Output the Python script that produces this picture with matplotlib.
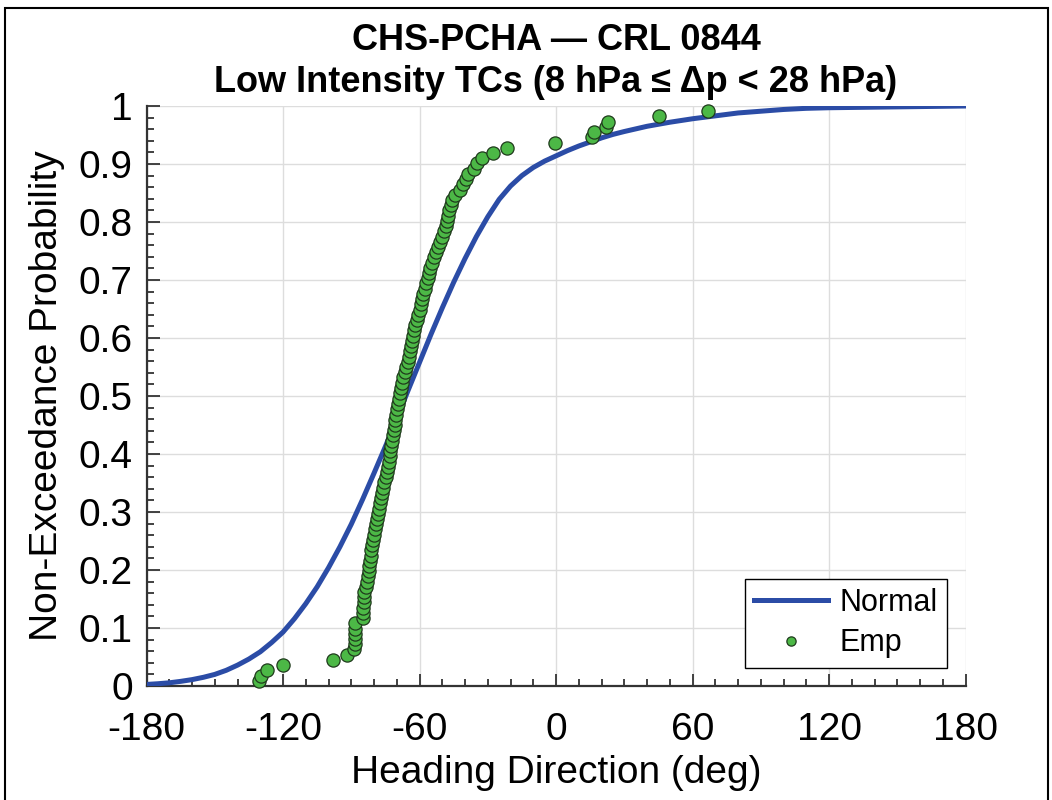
import numpy as np
import matplotlib.pyplot as plt
from matplotlib.patches import Rectangle
from matplotlib.ticker import MultipleLocator

plt.rcParams['font.family'] = ['Liberation Sans', 'DejaVu Sans']

# fitted normal CDF
norm_x = [-180, -175, -170, -165, -160, -155, -150, -145, -140, -135, -130, -125,
          -120, -115, -110, -105, -100, -95, -90, -85, -80, -75, -70, -65, -60,
          -55, -50, -45, -40, -35, -30, -25, -20, -15, -10, -5, 0, 5, 10, 15, 20,
          25, 30, 40, 50, 60, 70, 80, 90, 100, 110, 120, 140, 160, 180]
norm_p = [0.0027, 0.0039, 0.0055, 0.008, 0.011, 0.015, 0.020, 0.027, 0.036, 0.0465,
          0.059, 0.075, 0.093, 0.116, 0.142, 0.171, 0.204, 0.240, 0.279, 0.322,
          0.367, 0.413, 0.461, 0.510, 0.558, 0.606, 0.652, 0.696, 0.737, 0.775,
          0.809, 0.839, 0.862, 0.880, 0.894, 0.905, 0.914, 0.923, 0.931, 0.938,
          0.945, 0.951, 0.956, 0.965, 0.972, 0.978, 0.983, 0.988, 0.991, 0.994,
          0.996, 0.997, 0.998, 0.999, 1.0]

# empirical headings (deg), sorted
emp_x = [-130.6, -129.7, -127.2, -119.9, -97.9, -92.0, -88.6, -88.5, -88.5, -88.4,
         -88.4, -88.3, -84.9, -84.8, -84.8, -84.6, -84.5, -84.3, -83.6, -83.0,
         -82.6, -82.3, -82.0, -81.8, -81.5, -81.2, -80.9, -80.5, -80.2, -79.7,
         -79.2, -78.8, -78.3, -77.9, -77.4, -77.0, -76.6, -76.0, -75.5, -74.9,
         -74.4, -74.0, -73.6, -73.2, -72.8, -72.4, -72.0, -71.6, -71.3, -71.0,
         -70.6, -70.3, -70.0, -69.6, -69.1, -68.6, -68.1, -67.6, -67.2, -66.6,
         -65.9, -65.2, -64.6, -64.1, -63.6, -63.2, -62.8, -62.4, -61.8, -61.2,
         -60.6, -60.0, -59.5, -59.0, -58.4, -57.7, -57.0, -56.3, -55.7, -55.2,
         -54.4, -53.6, -52.8, -52.1, -51.0, -50.0, -49.2, -48.4, -47.9, -47.4,
         -46.9, -46.3, -45.8, -44.2, -42.4, -40.8, -39.4, -38.8, -36.2, -34.6,
         -32.5, -27.6, -21.5, -0.4, 15.7, 16.7, 22.0, 23.0, 45.4, 67.0]
emp_p = [0.009, 0.018, 0.027, 0.036, 0.045, 0.054, 0.063, 0.072, 0.081, 0.090,
         0.099, 0.108, 0.117, 0.126, 0.135, 0.144, 0.153, 0.162, 0.171, 0.180,
         0.189, 0.198, 0.207, 0.216, 0.225, 0.234, 0.243, 0.252, 0.261, 0.270,
         0.279, 0.288, 0.297, 0.306, 0.315, 0.324, 0.333, 0.342, 0.351, 0.360,
         0.369, 0.378, 0.387, 0.396, 0.405, 0.414, 0.423, 0.432, 0.441, 0.450,
         0.459, 0.468, 0.477, 0.486, 0.495, 0.505, 0.514, 0.523, 0.532, 0.541,
         0.550, 0.559, 0.568, 0.577, 0.586, 0.595, 0.604, 0.613, 0.622, 0.631,
         0.640, 0.649, 0.658, 0.667, 0.676, 0.685, 0.694, 0.703, 0.712, 0.721,
         0.730, 0.739, 0.748, 0.757, 0.766, 0.775, 0.784, 0.793, 0.802, 0.811,
         0.820, 0.829, 0.838, 0.847, 0.856, 0.865, 0.874, 0.883, 0.892, 0.901,
         0.910, 0.919, 0.928, 0.937, 0.946, 0.955, 0.964, 0.973, 0.982, 0.991]

x_ticks = [-180, -120, -60, 0, 60, 120, 180]
y_ticks = [0, 0.1, 0.2, 0.3, 0.4, 0.5, 0.6, 0.7, 0.8, 0.9, 1]
y_labels = ['0', '0.1', '0.2', '0.3', '0.4', '0.5', '0.6', '0.7', '0.8', '0.9', '1']

fig = plt.figure(figsize=(10.52, 8), dpi=100)
ax = fig.add_axes([0.1393, 0.1425, 0.7785, 0.725])

ax.plot(norm_x, norm_p, color='#2b4ca6', lw=3.6, label='Normal', zorder=3)
ax.plot(emp_x, emp_p, 'o', ms=9.5, mfc='#4cb846', mec='#1f3a1c', mew=0.9,
        label='Emp', zorder=4, clip_on=False)

ax.set_xlim(-180, 180)
ax.set_ylim(0, 1)
ax.set_xticks(x_ticks)
ax.set_xticklabels([str(t) for t in x_ticks])
ax.set_yticks(y_ticks)
ax.set_yticklabels(y_labels)
ax.xaxis.set_minor_locator(MultipleLocator(10))
ax.yaxis.set_minor_locator(MultipleLocator(0.02))
ax.tick_params(which='both', direction='in', labelsize=28, width=1.3, color='#333333')
ax.tick_params(which='major', length=9)
ax.tick_params(which='minor', length=5)
ax.tick_params(axis='x', which='major', pad=19)
ax.tick_params(axis='y', which='major', pad=10)
ax.grid(True, color='#dddddd', lw=1.0)
ax.set_axisbelow(True)

for s in ['top', 'right']:
    ax.spines[s].set_visible(False)
for s in ['left', 'bottom']:
    ax.spines[s].set_linewidth(1.6)
    ax.spines[s].set_color('#333333')

ax.set_xlabel('Heading Direction (deg)', fontsize=28, labelpad=5)
ax.set_ylabel('Non-Exceedance Probability', fontsize=28, labelpad=10)
ax.set_title('CHS-PCHA — CRL 0844\nLow Intensity TCs (8 hPa ≤ Δp < 28 hPa)',
             fontsize=26, fontweight='bold', linespacing=1.25, pad=10)

leg = ax.legend(loc='lower right', fontsize=22, markerscale=0.7, handlelength=2.4,
                borderaxespad=0.6, fancybox=False, framealpha=1, edgecolor='black',
                handletextpad=0.4, borderpad=0.3, labelspacing=0.35)
leg.get_frame().set_linewidth(1.0)

fig.add_artist(Rectangle((0.005, -0.01), 0.991, 1.0, transform=fig.transFigure,
                         fill=False, ec='black', lw=1.5))

fig.savefig('out.png', dpi=100)
